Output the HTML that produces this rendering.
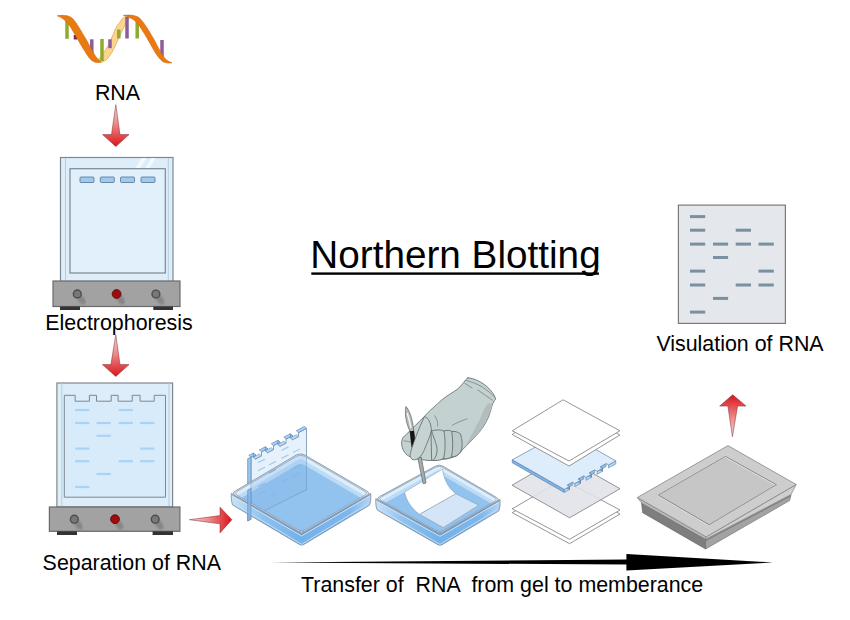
<!DOCTYPE html>
<html><head><meta charset="utf-8">
<style>
html,body{margin:0;padding:0;background:#fff;}
body{width:850px;height:620px;overflow:hidden;position:relative;}
svg{position:absolute;left:0;top:0;}
text{font-family:"Liberation Sans",sans-serif;fill:#000;}
</style></head>
<body>
<svg width="850" height="620" viewBox="0 0 850 620" xmlns="http://www.w3.org/2000/svg">
<defs>
  <linearGradient id="redV" x1="0" y1="0" x2="0" y2="1">
    <stop offset="0" stop-color="#f7d6d6"/>
    <stop offset="0.45" stop-color="#ee8a8a"/>
    <stop offset="1" stop-color="#d8141c"/>
  </linearGradient>
  <linearGradient id="redU" x1="0" y1="1" x2="0" y2="0">
    <stop offset="0" stop-color="#f7d6d6"/>
    <stop offset="0.45" stop-color="#ee8a8a"/>
    <stop offset="1" stop-color="#d8141c"/>
  </linearGradient>
  <linearGradient id="redH" x1="0" y1="0" x2="1" y2="0">
    <stop offset="0" stop-color="#f4d0d0"/>
    <stop offset="0.45" stop-color="#ee8a8a"/>
    <stop offset="1" stop-color="#d8141c"/>
  </linearGradient>
  <linearGradient id="wallg" x1="0" y1="0" x2="0" y2="1">
    <stop offset="0" stop-color="#c6dff6"/>
    <stop offset="0.35" stop-color="#94c2ef"/>
    <stop offset="1" stop-color="#86b8ea"/>
  </linearGradient>
  <filter id="blur1" x="-50%" y="-50%" width="200%" height="200%"><feGaussianBlur stdDeviation="1.3"/></filter>
</defs>

<!-- ===== RNA helix ===== -->
<g id="helix">
  <path d="M95 62 C99 59 102 56 104 52.6 C106 49 108 46 109.2 43.7 C111 39 113 35 114.5 31.3 C116 27 118 24 119.8 22.4 C121.5 19.5 123 17.5 125.1 16.6 C127 15.8 129 15.6 132.5 16.5 L132.2 17.3 C130.5 17.5 129.5 18 128.7 18.9 C127 21 126 23 125.1 25.1 C123.5 28 122 31 120.7 33.9 C119 37 117.5 40.5 116.3 43.7 C114.5 47 113.5 50 111.8 52.6 C110 55.5 108.5 58 106.5 59.6 C104.5 61.3 102.5 62.2 100.3 62.5 Z" fill="#fad590" stroke="#e0902a" stroke-width="0.6"/>
  <g stroke-width="3.5">
    <line x1="67" y1="20.6" x2="67" y2="38.8" stroke="#8faa2c"/>
    <line x1="75.5" y1="35" x2="75.5" y2="39.5" stroke="#7a2a4a"/>
    <line x1="91.8" y1="39.3" x2="91.8" y2="55.3" stroke="#8b5e9a"/>
    <line x1="102" y1="39" x2="102" y2="61" stroke="#8faa2c"/>
    <line x1="110" y1="39.3" x2="110" y2="48.2" stroke="#8b5e9a"/>
    <line x1="118.8" y1="29.5" x2="118.8" y2="38.5" stroke="#8faa2c"/>
    <line x1="127" y1="17" x2="127" y2="38.5" stroke="#8b5e9a"/>
    <line x1="137.2" y1="21.5" x2="137.2" y2="38.5" stroke="#8faa2c"/>
    <line x1="162" y1="40" x2="162" y2="56.5" stroke="#8b5e9a"/>
  </g>
  <path d="M57.2 15.8 C62 15 68 15 72 18 C77 23 81 31 86.1 39.3 C91 48 95 58 101.1 61.9 C99 62.6 96 62.5 93.2 61.5 C89 59 86 53 83.4 49 C79 42 76 36 73.6 32.2 C70 26 66 19 57.2 15.8 Z" fill="#e97a12" stroke="#d56a08" stroke-width="0.6"/>
  <path d="M123.4 15.4 C128 14.8 134 14.8 139 17.5 C144 22 149 31 153.5 38.5 C158 47 162 55 165 58.5 C167.5 61 170 62.2 172 62.8 C169 63.3 166 63 163.5 62 C159.5 59.5 156 54 152 47 C148 40 145 34 141.7 29.5 C137.5 22 132 17 123.4 15.4 Z" fill="#e97a12" stroke="#d56a08" stroke-width="0.6"/>
</g>
<text x="117.5" y="99.5" font-size="21.4" text-anchor="middle">RNA</text>

<!-- arrow 1 down -->
<path d="M115.8 104.7 L120 134.6 L129 134.6 L115.8 146.6 L102.6 134.6 L111.5 134.6 Z" fill="url(#redV)" stroke="#7a2a2a" stroke-width="0.5"/>

<!-- ===== Electrophoresis apparatus ===== -->
<g id="app1">
  <rect x="60.5" y="157.5" width="112.5" height="124" fill="#ddeefa" stroke="#7d8790" stroke-width="1.2"/>
  <line x1="65.5" y1="158" x2="65.5" y2="281" stroke="#b8cdda" stroke-width="1"/>
  <line x1="168.3" y1="158" x2="168.3" y2="281" stroke="#b8cdda" stroke-width="1"/>
  <path d="M135.5 168 L141.5 158 L146.5 158 L140.5 168Z M145.5 168 L151.5 158 L155.5 158 L149.5 168Z" fill="#f4f9fd"/>
  <rect x="70" y="168.7" width="95.3" height="104.3" fill="#e2f0fc" stroke="#7d8790" stroke-width="1.2"/>
  <g fill="#9ec9f2" stroke="#5f7f99" stroke-width="0.9">
    <rect x="80" y="177" width="14" height="5.5" rx="1"/>
    <rect x="100.3" y="177" width="14" height="5.5" rx="1"/>
    <rect x="120.5" y="177" width="14" height="5.5" rx="1"/>
    <rect x="141" y="177" width="14" height="5.5" rx="1"/>
  </g>
  <rect x="53" y="281" width="127" height="25.5" fill="#a2a2a2" stroke="#6a6a6a" stroke-width="1.2"/>
  <rect x="60" y="306.5" width="20" height="3.5" fill="#333"/>
  <rect x="153.3" y="306.5" width="19.7" height="3.5" fill="#333"/>
  <g>
    <line x1="77.3" y1="293.9" x2="82.8" y2="301.4" stroke="#6e6e6e" stroke-width="6" stroke-linecap="round" opacity="0.55" filter="url(#blur1)"/><line x1="116.6" y1="294" x2="122.1" y2="301.5" stroke="#6e6e6e" stroke-width="6" stroke-linecap="round" opacity="0.55" filter="url(#blur1)"/><line x1="155.9" y1="294" x2="161.4" y2="301.5" stroke="#6e6e6e" stroke-width="6" stroke-linecap="round" opacity="0.55" filter="url(#blur1)"/>
    <circle cx="77.3" cy="293.9" r="3.9" fill="#787878" stroke="#4c4c4c" stroke-width="1.4"/>
    <circle cx="116.6" cy="294" r="4.4" fill="#a00b10" stroke="#680707" stroke-width="0.9"/>
    <circle cx="155.9" cy="294" r="3.9" fill="#787878" stroke="#4c4c4c" stroke-width="1.4"/>
  </g>
</g>
<text x="119" y="330.4" font-size="21.4" text-anchor="middle">Electrophoresis</text>

<!-- arrow 2 down -->
<path d="M115.8 334.7 L120 364.6 L129 364.6 L115.8 376.5 L102.4 364.6 L110.9 364.6 Z" fill="url(#redV)" stroke="#7a2a2a" stroke-width="0.5"/>

<!-- ===== Separation apparatus ===== -->
<g id="app2">
  <rect x="56.9" y="383" width="115.7" height="124" fill="#ddeefa" stroke="#7d8790" stroke-width="1.2"/>
  <line x1="61.8" y1="383.5" x2="61.8" y2="506.5" stroke="#b8cdda" stroke-width="1"/>
  <line x1="169" y1="383.5" x2="169" y2="506.5" stroke="#b8cdda" stroke-width="1"/>
  <path d="M64.3 395.3 L75.2 395.3 L75.2 401.2 L89.4 401.2 L89.4 395.3 L96.5 395.3 L96.5 401.2 L111.2 401.2 L111.2 395.3 L118.1 395.3 L118.1 401.2 L132.2 401.2 L132.2 395.3 L140.1 395.3 L140.1 401.2 L154.2 401.2 L154.2 395.3 L165.5 395.3 L165.5 497.2 L64.3 497.2 Z" fill="#d8ebfb" stroke="#7d8790" stroke-width="1"/>
  <g stroke="#a9d3f6" stroke-width="2.2">
    <line x1="75.2" y1="410" x2="89.4" y2="410"/><line x1="118.6" y1="410" x2="132.8" y2="410"/>
    <line x1="75.2" y1="423" x2="89.4" y2="423"/><line x1="96.5" y1="423" x2="110.7" y2="423"/><line x1="118.6" y1="423" x2="132.8" y2="423"/><line x1="140.1" y1="423" x2="154.3" y2="423"/>
    <line x1="96.5" y1="435.8" x2="110.7" y2="435.8"/>
    <line x1="75.2" y1="448.6" x2="89.4" y2="448.6"/><line x1="140.1" y1="448.6" x2="154.3" y2="448.6"/>
    <line x1="75.2" y1="461.2" x2="89.4" y2="461.2"/><line x1="118.6" y1="461.2" x2="132.8" y2="461.2"/><line x1="140.1" y1="461.2" x2="154.3" y2="461.2"/>
    <line x1="96.5" y1="474" x2="110.7" y2="474"/>
    <line x1="75.2" y1="487" x2="89.4" y2="487"/>
  </g>
  <rect x="49.4" y="507" width="130.5" height="24.3" fill="#a2a2a2" stroke="#6a6a6a" stroke-width="1.2"/>
  <rect x="57" y="531.3" width="20" height="3.7" fill="#333"/>
  <rect x="152.6" y="531.3" width="20.4" height="3.7" fill="#333"/>
  <line x1="74.3" y1="519.2" x2="79.8" y2="526.7" stroke="#6e6e6e" stroke-width="6" stroke-linecap="round" opacity="0.55" filter="url(#blur1)"/><line x1="115" y1="519.2" x2="120.5" y2="526.7" stroke="#6e6e6e" stroke-width="6" stroke-linecap="round" opacity="0.55" filter="url(#blur1)"/><line x1="155.2" y1="519.2" x2="160.7" y2="526.7" stroke="#6e6e6e" stroke-width="6" stroke-linecap="round" opacity="0.55" filter="url(#blur1)"/>
  <circle cx="74.3" cy="519.2" r="3.9" fill="#787878" stroke="#4c4c4c" stroke-width="1.4"/>
  <circle cx="115" cy="519.2" r="4.4" fill="#a00b10" stroke="#680707" stroke-width="0.9"/>
  <circle cx="155.2" cy="519.2" r="3.9" fill="#787878" stroke="#4c4c4c" stroke-width="1.4"/>
</g>
<text x="131.8" y="569.7" font-size="21.4" text-anchor="middle">Separation of RNA</text>

<!-- arrow 3 right -->
<path d="M189.5 519.7 L220 515.6 L220 507.2 L231.9 519.7 L220 532.9 L220 523.8 Z" fill="url(#redH)" stroke="#7a2a2a" stroke-width="0.5"/>

<!-- Title -->
<text x="455.5" y="267.6" font-size="38.7" text-anchor="middle">Northern Blotting</text>
<rect x="311.3" y="272.4" width="287.6" height="2.4" fill="#000"/>

<!-- ===== Visualization blot ===== -->
<g id="blot">
  <rect x="678.4" y="205.1" width="107" height="118.3" fill="#e4e7ec" stroke="#7a7a7a" stroke-width="1.2"/>
  <g stroke="#7890a0" stroke-width="3">
    <line x1="690" y1="216.6" x2="705.2" y2="216.6"/>
    <line x1="690" y1="230.2" x2="705.2" y2="230.2"/><line x1="735.7" y1="230.2" x2="751" y2="230.2"/>
    <line x1="690" y1="244.1" x2="705.2" y2="244.1"/><line x1="713" y1="244.1" x2="728.1" y2="244.1"/><line x1="735.7" y1="244.1" x2="751" y2="244.1"/><line x1="758.5" y1="244.1" x2="773.8" y2="244.1"/>
    <line x1="713" y1="257.5" x2="728.1" y2="257.5"/>
    <line x1="690" y1="271.1" x2="705.2" y2="271.1"/><line x1="758.5" y1="271.1" x2="773.8" y2="271.1"/>
    <line x1="690" y1="285" x2="705.2" y2="285"/><line x1="735.7" y1="285" x2="751" y2="285"/><line x1="758.5" y1="285" x2="773.8" y2="285"/>
    <line x1="713" y1="298.4" x2="728.1" y2="298.4"/>
    <line x1="690" y1="312.1" x2="705.2" y2="312.1"/>
  </g>
</g>
<text x="740" y="351.3" font-size="21.4" text-anchor="middle">Visulation of RNA</text>

<!-- arrow up -->
<path d="M732.7 394.7 L746 406.1 L737.6 406.1 L732.4 436.7 L727.9 406.1 L719.7 406.1 Z" fill="url(#redU)" stroke="#7a2a2a" stroke-width="0.5"/>

<!--TRAYS-START-->
<clipPath id="aboveRim"><path d="M0 0 L850 0 L850 493.4 L370.8 493.4 L300.5 452.5 L231.3 493.4 L0 493.4 Z"/></clipPath>
<g clip-path="url(#aboveRim)">
<path d="M251.0 457.3 L255.5 455.0 L255.5 459.0 L261.5 455.8 L261.5 451.8 L267.5 448.7 L267.5 452.7 L273.5 449.6 L273.5 445.6 L280.0 442.2 L280.0 446.2 L286.0 443.1 L286.0 439.1 L292.5 435.7 L292.5 439.7 L298.5 436.6 L298.5 432.6 L306.5 428.4 L306.5 489.7 L251.0 517.4 Z" fill="#e6f1fc" stroke="#6f8fb0" stroke-width="0.8"/>
<g stroke="#a6cff4" stroke-width="1.3"><line x1="258.0" y1="462.7" x2="265.0" y2="459.2"/><line x1="281.5" y1="450.4" x2="288.5" y2="446.9"/><line x1="258.0" y1="470.7" x2="265.0" y2="467.2"/><line x1="269.0" y1="464.9" x2="276.0" y2="461.4"/><line x1="281.5" y1="458.4" x2="288.5" y2="454.9"/><line x1="293.0" y1="452.5" x2="300.0" y2="449.0"/><line x1="269.0" y1="472.9" x2="276.0" y2="469.4"/><line x1="258.0" y1="486.7" x2="265.0" y2="483.2"/><line x1="293.0" y1="468.5" x2="300.0" y2="465.0"/><line x1="258.0" y1="494.7" x2="265.0" y2="491.2"/><line x1="281.5" y1="482.4" x2="288.5" y2="478.9"/><line x1="293.0" y1="476.5" x2="300.0" y2="473.0"/><line x1="269.0" y1="496.9" x2="276.0" y2="493.4"/></g>
</g>
<path d="M247.7 458.7 L251 457.3 L251 519.2 L247.7 520.9 Z" fill="#9cc6ef" stroke="#5f86b0" stroke-width="0.7"/>
<path d="M248.8 455.4 L253.3 453.1 L255.5 455.0 L251.0 457.3 Z" fill="#a9d0f5" stroke="#4f7aa6" stroke-width="0.6"/><path d="M259.3 449.9 L265.3 446.8 L267.5 448.7 L261.5 451.8 Z" fill="#a9d0f5" stroke="#4f7aa6" stroke-width="0.6"/><path d="M271.3 443.7 L277.8 440.3 L280.0 442.2 L273.5 445.6 Z" fill="#a9d0f5" stroke="#4f7aa6" stroke-width="0.6"/><path d="M283.8 437.2 L290.3 433.8 L292.5 435.7 L286.0 439.1 Z" fill="#a9d0f5" stroke="#4f7aa6" stroke-width="0.6"/><path d="M296.3 430.7 L304.3 426.5 L306.5 428.4 L298.5 432.6 Z" fill="#a9d0f5" stroke="#4f7aa6" stroke-width="0.6"/><path d="M255.5 455.0 L255.5 459.0 L253.3 457.1 L253.3 453.1 Z" fill="#8fbdeb" stroke="#4f7aa6" stroke-width="0.5"/><path d="M253.3 457.1 L259.3 453.9 L261.5 455.8 L255.5 459.0 Z" fill="#bcdaf7" stroke="#4f7aa6" stroke-width="0.5"/><path d="M267.5 448.7 L267.5 452.7 L265.3 450.8 L265.3 446.8 Z" fill="#8fbdeb" stroke="#4f7aa6" stroke-width="0.5"/><path d="M265.3 450.8 L271.3 447.7 L273.5 449.6 L267.5 452.7 Z" fill="#bcdaf7" stroke="#4f7aa6" stroke-width="0.5"/><path d="M280.0 442.2 L280.0 446.2 L277.8 444.3 L277.8 440.3 Z" fill="#8fbdeb" stroke="#4f7aa6" stroke-width="0.5"/><path d="M277.8 444.3 L283.8 441.2 L286.0 443.1 L280.0 446.2 Z" fill="#bcdaf7" stroke="#4f7aa6" stroke-width="0.5"/><path d="M292.5 435.7 L292.5 439.7 L290.3 437.8 L290.3 433.8 Z" fill="#8fbdeb" stroke="#4f7aa6" stroke-width="0.5"/><path d="M290.3 437.8 L296.3 434.7 L298.5 436.6 L292.5 439.7 Z" fill="#bcdaf7" stroke="#4f7aa6" stroke-width="0.5"/>
<g id="tray1" stroke-linejoin="round">
<clipPath id="tray1c"><path d="M237.8 495.7 Q233.7 493.4 237.7 491.0 L296.5 456.3 Q300.5 453.9 304.6 456.3 L364.3 491.0 Q368.4 493.4 364.4 495.7 L305.6 529.6 Q301.6 531.9 297.5 529.6 Z"/></clipPath>
<linearGradient id="tray1wg" gradientUnits="userSpaceOnUse" x1="231.3" y1="0" x2="370.8" y2="0"><stop offset="0" stop-color="#c8e2f8"/><stop offset="0.22" stop-color="#8fc2ef"/><stop offset="0.5" stop-color="#74b1ea"/><stop offset="0.85" stop-color="#7fb7ec"/><stop offset="1" stop-color="#b3d6f5"/></linearGradient>
<path d="M231.3 493.4 L301.6 533.3 L370.8 493.4 Q371.1 502.0 369.4 505.2 L303.6 544.6 Q301.6 545.6 299.6 544.6 L232.9 505.2 Q231.0 502.0 231.3 493.4 Z" fill="url(#tray1wg)" stroke="#7a8896" stroke-width="0.8"/>
<path d="M232.1 495.0 L301.6 534.9 L370.0 495.0" fill="none" stroke="#7a8896" stroke-width="0.7"/>
<path d="M232.3 496.0 L301.6 535.9 L369.8 496.0" fill="none" stroke="#d3e8fa" stroke-width="0.9"/>
<path d="M234.4 503.9 L301.6 544.3 L367.9 503.9" fill="none" stroke="#c0ddf7" stroke-width="1"/>
<path d="M235.5 495.8 Q231.3 493.4 235.5 490.9 L296.3 455.0 Q300.5 452.5 304.7 455.0 L366.6 490.9 Q370.8 493.4 366.6 495.8 L305.8 530.9 Q301.6 533.3 297.4 530.9 Z" fill="#dcecfb" stroke="#76879a" stroke-width="0.8"/>
<path d="M237.8 495.7 Q233.7 493.4 237.7 491.0 L296.5 456.3 Q300.5 453.9 304.6 456.3 L364.3 491.0 Q368.4 493.4 364.4 495.7 L305.6 529.6 Q301.6 531.9 297.5 529.6 Z" fill="#ddeefb"/>
<g clip-path="url(#tray1c)"><path d="M237.8 500.2 Q233.7 497.9 237.7 495.5 L296.5 460.8 Q300.5 458.4 304.6 460.8 L364.3 495.5 Q368.4 497.9 364.4 500.2 L305.6 534.1 Q301.6 536.4 297.5 534.1 Z" fill="#bcdbf7"/><path d="M237.8 504.7 Q233.7 502.4 237.7 500.0 L296.5 465.3 Q300.5 462.9 304.6 465.3 L364.3 500.0 Q368.4 502.4 364.4 504.7 L305.6 538.6 Q301.6 540.9 297.5 538.6 Z" fill="#92c2ee"/><path d="M251.0 457.3 L255.5 455.0 L255.5 459.0 L261.5 455.8 L261.5 451.8 L267.5 448.7 L267.5 452.7 L273.5 449.6 L273.5 445.6 L280.0 442.2 L280.0 446.2 L286.0 443.1 L286.0 439.1 L292.5 435.7 L292.5 439.7 L298.5 436.6 L298.5 432.6 L306.5 428.4 L306.5 489.7 L251.0 517.4 Z" fill="#7fb3e6" fill-opacity="0.22" stroke="#6b8db3" stroke-width="0.6" stroke-opacity="0.8"/>
<g stroke="#86b9ea" stroke-width="1.2"><line x1="258.0" y1="462.7" x2="265.0" y2="459.2"/><line x1="281.5" y1="450.4" x2="288.5" y2="446.9"/><line x1="258.0" y1="470.7" x2="265.0" y2="467.2"/><line x1="269.0" y1="464.9" x2="276.0" y2="461.4"/><line x1="281.5" y1="458.4" x2="288.5" y2="454.9"/><line x1="293.0" y1="452.5" x2="300.0" y2="449.0"/><line x1="269.0" y1="472.9" x2="276.0" y2="469.4"/><line x1="258.0" y1="486.7" x2="265.0" y2="483.2"/><line x1="293.0" y1="468.5" x2="300.0" y2="465.0"/><line x1="258.0" y1="494.7" x2="265.0" y2="491.2"/><line x1="281.5" y1="482.4" x2="288.5" y2="478.9"/><line x1="293.0" y1="476.5" x2="300.0" y2="473.0"/><line x1="269.0" y1="496.9" x2="276.0" y2="493.4"/></g></g>
<path d="M237.8 495.7 Q233.7 493.4 237.7 491.0 L296.5 456.3 Q300.5 453.9 304.6 456.3 L364.3 491.0 Q368.4 493.4 364.4 495.7 L305.6 529.6 Q301.6 531.9 297.5 529.6 Z" fill="none" stroke="#76879a" stroke-width="0.6"/>
</g>
<path d="M247.7 490 L251 488.3 L251 519.2 L247.7 520.9 Z" fill="#84b6e8" stroke="#5f86b0" stroke-width="0.6" opacity="0.9"/>
<g id="tray2" stroke-linejoin="round">
<clipPath id="tray2c"><path d="M381.7 500.7 Q378.0 498.7 381.7 496.7 L435.5 467.3 Q439.2 465.3 442.7 467.4 L494.4 497.4 Q498.0 499.5 494.5 501.5 L443.4 530.5 Q440.0 532.5 436.2 530.5 Z"/></clipPath>
<linearGradient id="tray2wg" gradientUnits="userSpaceOnUse" x1="375.8" y1="0" x2="500.1" y2="0"><stop offset="0" stop-color="#c8e2f8"/><stop offset="0.22" stop-color="#8fc2ef"/><stop offset="0.5" stop-color="#74b1ea"/><stop offset="0.85" stop-color="#7fb7ec"/><stop offset="1" stop-color="#b3d6f5"/></linearGradient>
<path d="M375.8 498.7 L440.0 533.7 L500.1 499.5 Q500.4 507.9 498.7 511.0 L442.0 544.7 Q440.0 545.7 438.0 544.7 L377.4 510.2 Q375.5 507.1 375.8 498.7 Z" fill="url(#tray2wg)" stroke="#7a8896" stroke-width="0.8"/>
<path d="M376.6 500.3 L440.0 535.3 L499.3 501.1" fill="none" stroke="#7a8896" stroke-width="0.7"/>
<path d="M376.8 501.3 L440.0 536.3 L499.1 502.1" fill="none" stroke="#d3e8fa" stroke-width="0.9"/>
<path d="M378.9 508.9 L440.0 544.4 L497.2 509.7" fill="none" stroke="#c0ddf7" stroke-width="1"/>
<path d="M379.7 500.8 Q375.8 498.7 379.6 496.6 L435.4 466.2 Q439.2 464.1 442.9 466.2 L496.4 497.4 Q500.1 499.5 496.5 501.6 L443.6 531.6 Q440.0 533.7 436.1 531.6 Z" fill="#dcecfb" stroke="#76879a" stroke-width="0.8"/>
<path d="M381.7 500.7 Q378.0 498.7 381.7 496.7 L435.5 467.3 Q439.2 465.3 442.7 467.4 L494.4 497.4 Q498.0 499.5 494.5 501.5 L443.4 530.5 Q440.0 532.5 436.2 530.5 Z" fill="#ddeefb"/>
<g clip-path="url(#tray2c)"><path d="M381.7 504.7 Q378.0 502.7 381.7 500.7 L435.5 471.3 Q439.2 469.3 442.7 471.4 L494.4 501.4 Q498.0 503.5 494.5 505.5 L443.4 534.5 Q440.0 536.5 436.2 534.5 Z" fill="#bcdbf7"/><path d="M381.7 508.7 Q378.0 506.7 381.7 504.7 L435.5 475.3 Q439.2 473.3 442.7 475.4 L494.4 505.4 Q498.0 507.5 494.5 509.5 L443.4 538.5 Q440.0 540.5 436.2 538.5 Z" fill="#92c2ee"/><path d="M419.4 514.3 L455.7 493.7 L478.7 505.2 L443.3 527.5 Z" fill="#d3e5f7" stroke="#8aa0b4" stroke-width="0.6"/></g>
<path d="M381.7 500.7 Q378.0 498.7 381.7 496.7 L435.5 467.3 Q439.2 465.3 442.7 467.4 L494.4 497.4 Q498.0 499.5 494.5 501.5 L443.4 530.5 Q440.0 532.5 436.2 530.5 Z" fill="none" stroke="#76879a" stroke-width="0.6"/>
<path d="M404.6 492.1 L442.5 469 C443.5 478 448 488 455.7 493.7 L419.4 514.3 C411 508 406 500 404.6 492.1 Z" fill="#ffffff" stroke="#8aa0b4" stroke-width="0.6"/>
</g>
<!--TRAYS-END-->

<!-- glove + scalpel -->
<g id="glove" stroke="#5e6767" stroke-width="0.8" stroke-linejoin="round" stroke-linecap="round">
  <path d="M468.1 377.8 C480 379 490 388 494.2 395.2 L495.7 399.1 C494 401 493 403 492.3 404.9 C491 409 490 413 488.4 417.5 C486 422 484 426 481.6 429.1 C478 434 474 438 470 442 L462.4 449.8 C460 453 458 455.5 455 456.5 C452 457.5 449 458.5 446 459 C443 459.5 440 459.5 437 460 C434 460.5 430 460.8 426 460.2 C421 459.5 416 459 411.5 457.5 C408 456 406 454.5 404.5 452 C402.5 449.5 401.5 446 401.6 441.9 C402 438 404 436 406.3 434.6 C409 431.5 412.5 428 415.7 425.2 C418.5 422 421.5 419.5 424.1 416.8 C428 412 433 408 437.6 403.7 C442 399.5 446 396.5 449.7 394.3 C453 392 457 390 459.4 387.5 C461 385.5 462.5 383.5 463.7 382.6 C465 380.5 466.5 378.5 468.1 377.8 Z" fill="#c4d1d1"/>
  <path d="M492.3 404.9 C490 413 486 422 481.6 429.1 C477 435 472 440 466 446 C470 436 478 425 483 412 C486 405 489 401 492.3 404.9Z" fill="#b3bdbd" stroke="none"/>
  <path d="M464.7 383.1 L472 388" fill="none" stroke="#6f7878" stroke-width="0.7"/>
  <path d="M466 380.5 C478 383 488 390 494.5 397" fill="none" stroke="#6f7878" stroke-width="0.7"/>
  <path d="M477.8 389.9 L492.3 400.1" fill="none" stroke="#6f7878" stroke-width="0.7"/>
  <path d="M434.6 415.7 C437 419 438 422 437.7 426.2" fill="none" stroke="#6f7878" stroke-width="0.7"/>
  <path d="M452.4 425.2 C457 422.5 462 420.5 467 418.9" fill="none" stroke="#6f7878" stroke-width="0.7"/>
  <path d="M451.8 431.5 C455 431 458 432 460.5 434 C462.5 440 462.5 446 461.5 450 C459.5 454 457 456 454.5 456.5 C453 456.8 452 457 451.5 457 Z" fill="#bcc9c9"/>
  <path d="M444 431 C447 430 450 430 451.8 431.5 C453 440 453 450 451.5 457 C449.5 458.5 446.5 459 443.5 458.5 Z" fill="#c0cdcd"/>
  <path d="M431.4 431 C436 429.5 441 429.5 444 431 C445.5 440 445.5 452 443.5 458.5 C440 460.5 435 461 432 460.3 Z" fill="#c4d1d1"/>
  <path d="M404 441 C407 441 410 441.5 412 443" fill="none" stroke="#6f7878" stroke-width="0.7"/>
</g>
<g id="scalpel" stroke-linejoin="round">
  <path d="M417.8 458 L421.3 457.3 L426 483 L423.2 483.8 Z" fill="#a9adad" stroke="#5d6262" stroke-width="0.7"/>
  <path d="M405.9 406.5 C409.5 410 412.5 419 413.8 431 L415.6 446.5 L411.8 447.2 L410 431.3 C406.5 424 404.3 415 405.9 406.5 Z" fill="#b4baba" stroke="#5d6262" stroke-width="0.7"/>
  <path d="M407.2 413 Q409.5 420 411 428" fill="none" stroke="#f2f4f4" stroke-width="1.5"/>
  <path d="M409.8 431.3 L414 430.8 L415.8 446.5 L411.7 447.3 Z" fill="#151515"/>
</g>
<g stroke="#5e6767" stroke-width="0.8" stroke-linejoin="round">
  <path d="M424.5 416.5 C428 418 431 422 431.4 430.4 C430 437 427 443 424.5 449.5 C422 455 419 459.5 414.5 459.8 C410.5 459.8 409.5 456.5 410.5 452.5 C413 444 418 430 424.5 416.5 Z" fill="#c7d3d3"/>
  <path d="M431.4 430.4 C433 436 436 442 437 448 C437.5 453 436 458 433 460.4" fill="none"/>
</g>

<!-- ===== Stack of layers ===== -->
<g id="stack" stroke="#8a8a8a" stroke-width="0.9" stroke-linejoin="round">
  <path d="M512.2 512.7 L562.6 483 L620 514 L569.6 543.7 Z" fill="#fff"/>
  <path d="M512.2 508.8 L562.6 479.5 L620 510 L569.6 539.3 Z" fill="#fff"/>
  <path d="M512 485.2 L562.4 456.1 L620 488.7 L569.6 517.8 Z" fill="#e1e3e8" fill-opacity="0.88"/>
  <path d="M512.3 459.8 L564.3 489.4 L564.3 492.4 L512.3 462.8 Z" fill="#7fb4ea" stroke="#5a82ad" stroke-width="0.7"/>
  <path d="M564.3 489.4 L569.5 486.5 L569.5 489.5 L564.3 492.4 Z" fill="#b3d6f6" stroke="#5a82ad" stroke-width="0.6"/>
  <path d="M574.8 483.6 L580.5 480.4 L580.5 483.4 L574.8 486.6 Z" fill="#b3d6f6" stroke="#5a82ad" stroke-width="0.6"/>
  <path d="M586.1 477.3 L591.5 474.3 L591.5 477.3 L586.1 480.3 Z" fill="#b3d6f6" stroke="#5a82ad" stroke-width="0.6"/>
  <path d="M597.0 471.3 L602.5 468.3 L602.5 471.3 L597.0 474.3 Z" fill="#b3d6f6" stroke="#5a82ad" stroke-width="0.6"/>
  <path d="M608.5 464.9 L615.8 460.9 L615.8 463.9 L608.5 467.9 Z" fill="#b3d6f6" stroke="#5a82ad" stroke-width="0.6"/>
  <path d="M567.1 485.1 L572.4 482.2 L572.4 485.2 L567.1 488.1 Z" fill="#8fc0ee" stroke="#5a82ad" stroke-width="0.6"/>
  <path d="M569.5 486.5 L567.1 485.1 L567.1 488.1 L569.5 489.5 Z" fill="#6fa8e2" stroke="#5a82ad" stroke-width="0.6"/>
  <path d="M578.1 479.0 L583.7 475.9 L583.7 478.9 L578.1 482.0 Z" fill="#8fc0ee" stroke="#5a82ad" stroke-width="0.6"/>
  <path d="M580.5 480.4 L578.1 479.0 L578.1 482.0 L580.5 483.4 Z" fill="#6fa8e2" stroke="#5a82ad" stroke-width="0.6"/>
  <path d="M589.1 472.9 L594.6 469.9 L594.6 472.9 L589.1 475.9 Z" fill="#8fc0ee" stroke="#5a82ad" stroke-width="0.6"/>
  <path d="M591.5 474.3 L589.1 472.9 L589.1 475.9 L591.5 477.3 Z" fill="#6fa8e2" stroke="#5a82ad" stroke-width="0.6"/>
  <path d="M600.1 466.9 L606.1 463.5 L606.1 466.5 L600.1 469.9 Z" fill="#8fc0ee" stroke="#5a82ad" stroke-width="0.6"/>
  <path d="M602.5 468.3 L600.1 466.9 L600.1 469.9 L602.5 471.3 Z" fill="#6fa8e2" stroke="#5a82ad" stroke-width="0.6"/>
  <path d="M512.3 459.8 L563.8 431.3 L615.8 460.9 L608.5 464.9 L606.1 463.5 L600.1 466.9 L602.5 468.3 L597.0 471.3 L594.6 469.9 L589.1 472.9 L591.5 474.3 L586.1 477.3 L583.7 475.9 L578.1 479.0 L580.5 480.4 L574.8 483.6 L572.4 482.2 L567.1 485.1 L569.5 486.5 L564.3 489.4 Z" fill="#deedfc" stroke="#5a82ad" stroke-width="0.7"/>
  <path d="M512.2 434.5 L563.1 403.5 L619.9 435 L569 466 Z" fill="#fff"/>
  <path d="M512.2 430.8 L563.1 399.8 L619.9 430.8 L569 461 Z" fill="#fff"/>
</g>

<!-- ===== Imaging device ===== -->
<g id="device" stroke-linejoin="round">
  <path d="M641.5 503 L705.6 539.3 L705.6 549 L642.7 512.7 Z" fill="#7e7e7e" stroke="#5e5e5e" stroke-width="0.6"/>
  <path d="M705.6 539.3 L791.1 494.5 L789.6 500.6 L705.6 549 Z" fill="#a3a3a3" stroke="#6a6a6a" stroke-width="0.6"/>
  <path d="M706 540.6 L790.8 495.8" stroke="#777" stroke-width="0.9" fill="none"/>
  <path d="M637.3 497.5 L706.2 536.9 L705.6 539.3 L641.5 503 Z" fill="#b9b9b9" stroke="#777" stroke-width="0.5"/>
  <path d="M706.2 536.9 L796.2 484.5 L791.1 494.5 L705.6 539.3 Z" fill="#cfcfcf" stroke="#777" stroke-width="0.6"/>
  <path d="M637.3 497.5 L728 445.6 L796.2 484.5 L706.2 536.9 Z" fill="#cdcdcd" stroke="#7a7a7a" stroke-width="0.7"/>
  <path d="M657.8 495.7 L725 457 L775.8 485.3 L708.6 525.4 Z" fill="#c6c6c6" stroke="#e2e2e2" stroke-width="1"/>
  <path d="M657.8 495.7 L725 457 L775.8 485.3 L708.6 525.4 Z" fill="none" stroke="#6e6e6e" stroke-width="0.7" transform="translate(0.6 -0.6)"/>
</g>

<!-- big black arrow -->
<path d="M270.4 562.4 L626.4 559.4 L626.4 554.1 L772.9 562.4 L626.4 570.6 L626.4 564.6 Z" fill="#000"/>
<text x="301" y="592.2" font-size="21.4" xml:space="preserve">Transfer of  RNA  from gel to memberance</text>

</svg>
</body></html>
